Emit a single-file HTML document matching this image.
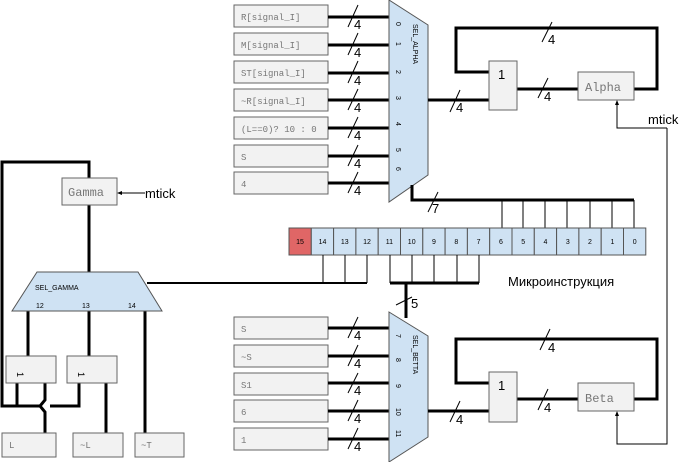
<!DOCTYPE html>
<html><head><meta charset="utf-8"><style>
body{margin:0;background:#fff;width:690px;height:462px;overflow:hidden}
svg{display:block}
.b{fill:#f2f2f2;stroke:#666;stroke-width:1}
.m{font-family:"Liberation Mono",monospace;font-size:9px;fill:#777}
.s{font-family:"Liberation Sans",sans-serif;fill:#000}
.w{stroke:#000;stroke-width:3;fill:none}
.t{stroke:#000;stroke-width:1;fill:none}
.c{fill:#cfe2f3;stroke:#555;stroke-width:1}
</style></head><body>
<svg width="690" height="462" viewBox="0 0 690 462" xmlns="http://www.w3.org/2000/svg">
<g>
<rect class="b" x="234" y="5" width="94" height="22"/><text class="m" x="241" y="20">R[signal_I]</text>
<rect class="b" x="234" y="33" width="94" height="22"/><text class="m" x="241" y="48">M[signal_I]</text>
<rect class="b" x="234" y="61" width="94" height="22"/><text class="m" x="241" y="76">ST[signal_I]</text>
<rect class="b" x="234" y="89" width="94" height="22"/><text class="m" x="241" y="104">~R[signal_I]</text>
<rect class="b" x="234" y="117" width="94" height="22"/><text class="m" x="241" y="132">(L==0)? 10 : 0</text>
<rect class="b" x="234" y="145" width="94" height="22"/><text class="m" x="241" y="160">S</text>
<rect class="b" x="234" y="172" width="94" height="22"/><text class="m" x="241" y="187">4</text>
</g>
<g class="w"><path d="M328 17H389M328 45H389M328 73H389M328 100H389M328 128H389M328 156H389M328 183H389"/></g>
<g class="t"><path d="M348 27L358 5M348 55L358 33M348 83L358 61M348 110L358 89M348 138L358 117M348 166L358 145M348 193L358 172"/></g>
<g class="s" font-size="13"><text x="354" y="29">4</text><text x="354" y="57">4</text><text x="354" y="85">4</text><text x="354" y="112">4</text><text x="354" y="140">4</text><text x="354" y="168">4</text><text x="354" y="195">4</text></g>
<polygon class="c" points="389,0 428,25 428,175 389,202"/>
<g class="s" font-size="7">
<text transform="translate(396,22) rotate(90)">0</text><text transform="translate(396,42) rotate(90)">1</text><text transform="translate(396,70) rotate(90)">2</text><text transform="translate(396,96) rotate(90)">3</text><text transform="translate(396,122) rotate(90)">4</text><text transform="translate(396,148) rotate(90)">5</text><text transform="translate(396,167) rotate(90)">6</text>
<text transform="translate(413,24) rotate(90)">SEL_ALPHA</text></g>
<path class="w" d="M428 100H489M517 89H578M634 89H657V28H456V72H489"/>
<path class="t" d="M450 112L460 90M538 98L548 78M542 42L552 22"/>
<g class="s" font-size="13"><text x="456" y="112">4</text><text x="544" y="101">4</text><text x="548" y="44">4</text></g>
<rect class="b" x="489" y="61" width="28" height="49"/><text class="s" x="498" y="79" font-size="13">1</text>
<rect class="b" x="578" y="72" width="56" height="28"/><text class="m" x="585" y="91" style="font-size:12px">Alpha</text>
<path class="t" d="M667 128H617V104M667 128V444H617V414"/>
<polygon points="617,100 615,105 619,105" fill="#000"/><polygon points="617,411 615,416 619,416" fill="#000"/>
<text class="s" x="648" y="124" font-size="13">mtick</text>
<path class="w" d="M412 185V200H634"/>
<path class="t" d="M428 212L438 192"/><text class="s" x="432" y="213" font-size="13">7</text>
<path class="t" d="M502 200V228M523 200V228M545 200V228M567 200V228M590 200V228M612 200V228M634 200V228"/>
<g font-family="Liberation Sans,sans-serif" font-size="7" text-anchor="middle">
<rect x="289" y="228" width="22.3" height="27" fill="#e06666" stroke="#555"/><text x="300" y="244">15</text>
<rect x="311.3" y="228" width="22.3" height="27" class="c"/><text x="322.5" y="244">14</text>
<rect x="333.6" y="228" width="22.3" height="27" class="c"/><text x="344.8" y="244">13</text>
<rect x="355.9" y="228" width="22.3" height="27" class="c"/><text x="367" y="244">12</text>
<rect x="378.2" y="228" width="22.3" height="27" class="c"/><text x="389.4" y="244">11</text>
<rect x="400.5" y="228" width="22.3" height="27" class="c"/><text x="411.7" y="244">10</text>
<rect x="422.8" y="228" width="22.3" height="27" class="c"/><text x="434" y="244">9</text>
<rect x="445.1" y="228" width="22.3" height="27" class="c"/><text x="456.3" y="244">8</text>
<rect x="467.4" y="228" width="22.3" height="27" class="c"/><text x="478.6" y="244">7</text>
<rect x="489.7" y="228" width="22.3" height="27" class="c"/><text x="500.9" y="244">6</text>
<rect x="512" y="228" width="22.3" height="27" class="c"/><text x="523.2" y="244">5</text>
<rect x="534.3" y="228" width="22.3" height="27" class="c"/><text x="545.5" y="244">4</text>
<rect x="556.6" y="228" width="22.3" height="27" class="c"/><text x="567.8" y="244">3</text>
<rect x="578.9" y="228" width="22.3" height="27" class="c"/><text x="590" y="244">2</text>
<rect x="601.2" y="228" width="22.3" height="27" class="c"/><text x="612.4" y="244">1</text>
<rect x="623.5" y="228" width="22.3" height="27" class="c"/><text x="634.7" y="244">0</text>
</g>
<path class="t" d="M323 255V283M345 255V283M367 255V283M390 255V283M412 255V283M434 255V283M457 255V283M479 255V283"/>
<path d="M147 283H367" stroke="#000" stroke-width="2"/>
<path class="w" d="M390 283H479M406 283V318"/>
<path class="t" d="M396 305L412 297"/><text class="s" x="411" y="308" font-size="13">5</text>
<text class="s" x="508" y="286" font-size="13">Микроинструкция</text>
<rect class="b" x="234" y="317" width="94" height="22"/><text class="m" x="241" y="332">S</text>
<rect class="b" x="234" y="345" width="94" height="22"/><text class="m" x="241" y="360">~S</text>
<rect class="b" x="234" y="373" width="94" height="22"/><text class="m" x="241" y="388">S1</text>
<rect class="b" x="234" y="400" width="94" height="22"/><text class="m" x="241" y="415">6</text>
<rect class="b" x="234" y="428" width="94" height="22"/><text class="m" x="241" y="443">1</text>
<path class="w" d="M328 328H389M328 356H389M328 383H389M328 411H389M328 439H389"/>
<path class="t" d="M348 338L358 317M348 366L358 345M348 393L358 373M348 421L358 400M348 449L358 428"/>
<g class="s" font-size="13"><text x="354" y="340">4</text><text x="354" y="368">4</text><text x="354" y="395">4</text><text x="354" y="423">4</text><text x="354" y="451">4</text></g>
<polygon class="c" points="389,312 428,336 428,437 389,462"/>
<g class="s" font-size="7">
<text transform="translate(396,334) rotate(90)">7</text><text transform="translate(396,358) rotate(90)">8</text><text transform="translate(396,384) rotate(90)">9</text><text transform="translate(396,408) rotate(90)">10</text><text transform="translate(396,430) rotate(90)">11</text>
<text transform="translate(413,335) rotate(90)">SEL_BETTA</text></g>
<path class="w" d="M428 411H489M517 399H578M634 399H657V339H456V383H489"/>
<path class="t" d="M450 422L460 401M538 410L548 389M540 350L550 329"/>
<g class="s" font-size="13"><text x="456" y="424">4</text><text x="544" y="412">4</text><text x="548" y="352">4</text></g>
<rect class="b" x="489" y="372" width="28" height="50"/><text class="s" x="498" y="390" font-size="13">1</text>
<rect class="b" x="578" y="383" width="56" height="28"/><text class="m" x="585" y="402" style="font-size:12px">Beta</text>
<path class="w" d="M89 178V162H2V406H40M50 406H79V383M89 205V272M28 311V356M89 311V356M145 311V433M17 383V406M45 383V400L40 406L45 412V433M106 383V433"/>
<rect class="b" x="62" y="178" width="55" height="27"/><text class="m" x="68" y="196" style="font-size:12px">Gamma</text>
<path class="t" d="M145 193H120"/><polygon points="117,193 122,191 122,195" fill="#000"/>
<text class="s" x="145" y="198" font-size="13">mtick</text>
<polygon class="c" points="37,272 138,272 162,311 12,311"/>
<g class="s" font-size="7"><text x="35" y="290">SEL_GAMMA</text><text x="36" y="308">12</text><text x="82" y="308">13</text><text x="128" y="308">14</text></g>
<rect class="b" x="6" y="356" width="50" height="27"/><text class="s" font-size="9" transform="translate(17,372) rotate(90)">1</text>
<rect class="b" x="67" y="356" width="50" height="27"/><text class="s" font-size="9" transform="translate(78,372) rotate(90)">1</text>
<rect class="b" x="2" y="433" width="54" height="24"/><text class="m" x="9" y="448">L</text>
<rect class="b" x="73" y="433" width="50" height="24"/><text class="m" x="80" y="448">~L</text>
<rect class="b" x="135" y="433" width="49" height="24"/><text class="m" x="141" y="448">~T</text>
</svg>
</body></html>
